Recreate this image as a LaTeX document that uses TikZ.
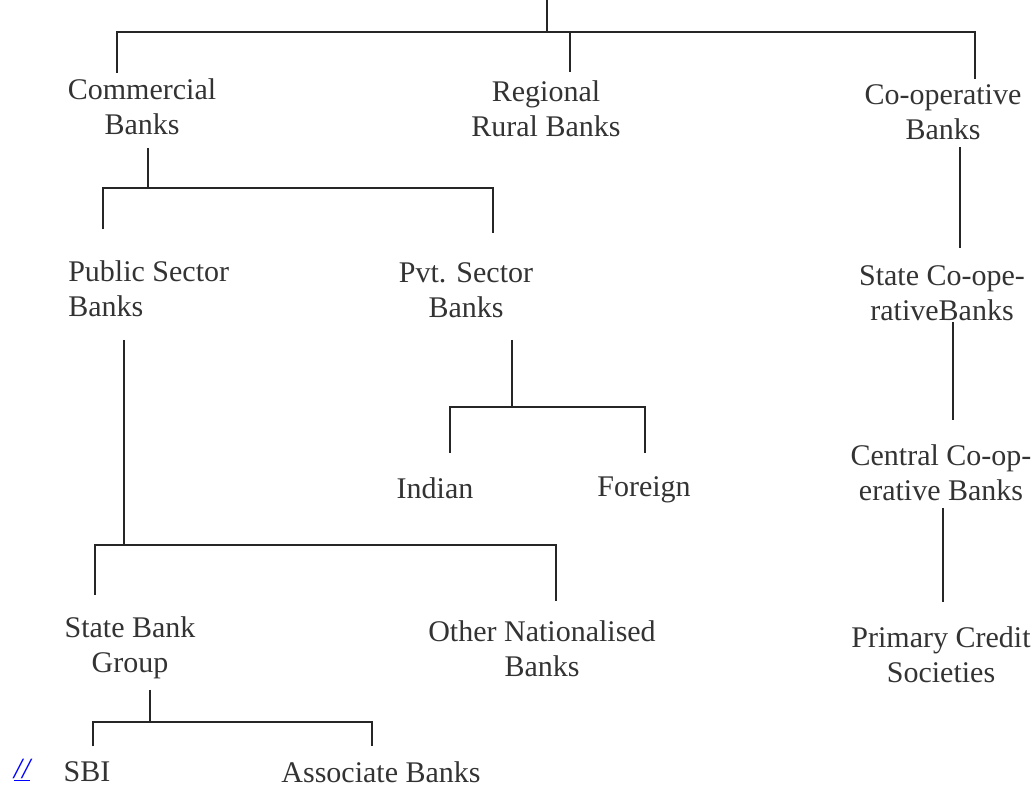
\documentclass[tikz,border=0pt]{standalone}
\usepackage{fontspec}
\setmainfont{Liberation Serif}
\begin{document}
\begin{tikzpicture}[x=0.75pt,y=-0.75pt,
  lbl/.style={align=center,inner sep=1.5pt,text=black!80,font=\fontsize{22.5}{26.3}\selectfont},
  conn/.style={draw=black!85,line width=1.4pt}]
\useasboundingbox (0,0) rectangle (1036,787);
% nodes
\node[lbl] (cb) at (142,107) {Commercial\\Banks};
\node[lbl] (rrb) at (546,109) {Regional\\Rural Banks};
\node[lbl] (cob) at (943,112) {Co-operative\\Banks};
\node[lbl,align=left,anchor=west] (psb) at (66,289) {Public Sector\\Banks};
\node[lbl] (pvt) at (466,290) {Pvt. Sector\\Banks};
\node[lbl] (ind) at (435,488) {Indian};
\node[lbl] (for) at (644,490) {Foreign};
\node[lbl] (sbg) at (130,648) {State Bank\\Group};
\node[lbl] (onb) at (542,649) {Other Nationalised\\Banks};
\node[lbl] (sbi) at (87,772) {SBI};
\node[lbl] (ab) at (381,772) {Associate Banks};
\node[lbl] (scb) at (942,293) {State Co-ope-\\rativeBanks};
\node[lbl] (ccb) at (941,473) {Central Co-op-\\erative Banks};
\node[lbl] (pcs) at (941,655) {Primary Credit\\Societies};
\node[text=blue,inner sep=0pt,font=\fontsize{22}{24}\selectfont\itshape] (lnk) at (22,770) {\underline{//}};
% junctions
\coordinate (t0) at (547,0);
\coordinate (b0) at (547,32);
\coordinate (b0L) at (117,32);
\coordinate (b0M) at (570,32);
\coordinate (b0R) at (975,32);
\coordinate (c1) at (148,148);
\coordinate (b1) at (148,188);
\coordinate (b1L) at (103,188);
\coordinate (b1R) at (493,188);
\coordinate (p1) at (512,340);
\coordinate (b2) at (512,407);
\coordinate (b2L) at (450,407);
\coordinate (b2R) at (645,407);
\coordinate (q1) at (124,340);
\coordinate (b3) at (124,545);
\coordinate (b3L) at (95,545);
\coordinate (b3R) at (556,545);
\coordinate (s1) at (150,690);
\coordinate (b4) at (150,722);
\coordinate (b4L) at (93,722);
\coordinate (b4R) at (372,722);
\coordinate (k1) at (960,147);
\coordinate (k2) at (953,322);
\coordinate (k3) at (943,508);
% connectors
\draw[conn] (t0) -- (b0);
\draw[conn,shorten <=3pt,shorten >=2pt] (b0L |- cb.north) -- (b0L) -- (b0R) -- (b0R |- cob.north);
\draw[conn,shorten >=5pt] (b0M) -- (b0M |- rrb.north);
\draw[conn] (c1) -- (b1);
\draw[conn,shorten <=22pt,shorten >=20pt] (b1L |- psb.north) -- (b1L) -- (b1R) -- (b1R |- pvt.north);
\draw[conn] (p1) -- (b2);
\draw[conn,shorten <=17pt,shorten >=16pt] (b2L |- ind.north) -- (b2L) -- (b2R) -- (b2R |- for.north);
\draw[conn] (q1) -- (b3);
\draw[conn,shorten <=15pt,shorten >=13pt] (b3L |- sbg.north) -- (b3L) -- (b3R) -- (b3R |- onb.north);
\draw[conn] (s1) -- (b4);
\draw[conn,shorten <=10pt,shorten >=10pt] (b4L |- sbi.north) -- (b4L) -- (b4R) -- (b4R |- ab.north);
\draw[conn,shorten >=11pt] (k1) -- (k1 |- scb.north);
\draw[conn,shorten >=17pt] (k2) -- (k2 |- ccb.north);
\draw[conn,shorten >=17pt] (k3) -- (k3 |- pcs.north);
\end{tikzpicture}
\end{document}
